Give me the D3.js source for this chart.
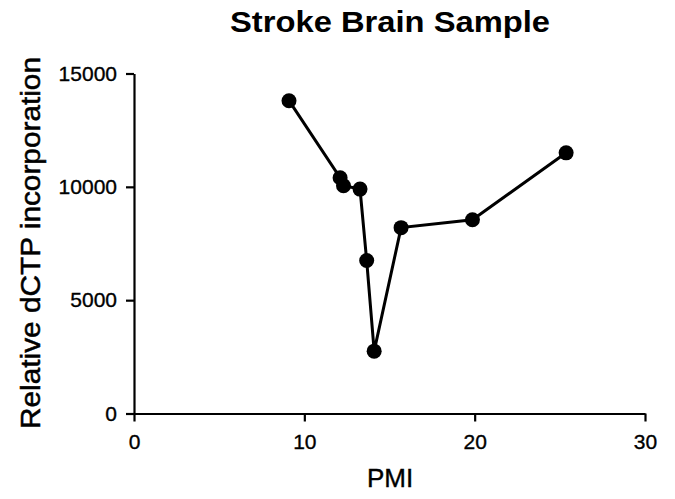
<!DOCTYPE html>
<html><head><meta charset="utf-8">
<script src="https://cdn.jsdelivr.net/npm/d3@7"></script>
<style>body{margin:0;background:#fff}svg{display:block}text{font-family:"Liberation Sans",Arial,sans-serif}</style>
</head><body>
<svg id="c" width="675" height="499"></svg>
<script>
const pmi = [9.1, 12.1, 12.3, 13.27, 13.66, 14.1, 15.68, 19.87, 25.37];
const dctp = [13800, 10400, 10050, 9900, 6750, 2750, 8200, 8550, 11500];
const xTicks = [0, 10, 20, 30];
const yTicks = [0, 5000, 10000, 15000];
const title = "Stroke Brain Sample";
const xLabel = "PMI";
const yLabel = "Relative dCTP incorporation";

const svg = d3.select("#c");
const x = d3.scaleLinear().domain([0, 30]).range([134, 645]);
const y = d3.scaleLinear().domain([0, 15000]).range([413.5, 73.5]);
const data = pmi.map((v, i) => ({x: v, y: dctp[i]}));

const xa = svg.append("g").attr("transform", `translate(0,${y(0)})`)
  .call(d3.axisBottom(x).tickValues(xTicks).tickFormat(d3.format("d")).tickSize(8).tickSizeOuter(0).tickPadding(13));
const ya = svg.append("g").attr("transform", `translate(${x(0)},0)`)
  .call(d3.axisLeft(y).tickValues(yTicks).tickFormat(d3.format("d")).tickSize(8).tickSizeOuter(0).tickPadding(9));
[xa, ya].forEach(a => {
  a.selectAll("path,line").attr("stroke", "#000").attr("stroke-width", 2.2);
  a.selectAll("text").attr("fill", "#000").attr("stroke", "#000").attr("stroke-width", 0.35).style("font-size", "21px");
});

svg.append("path").datum(data)
  .attr("fill", "none").attr("stroke", "#000").attr("stroke-width", 3)
  .attr("d", d3.line().x(d => x(d.x)).y(d => y(d.y)));
svg.selectAll("circle.p").data(data).enter().append("circle")
  .attr("cx", d => x(d.x)).attr("cy", d => y(d.y)).attr("r", 7.5).attr("fill", "#000");

svg.append("text").attr("x", 390).attr("y", 32).attr("text-anchor", "middle")
  .attr("textLength", 320).attr("lengthAdjust", "spacingAndGlyphs")
  .style("font-size", "30px").style("font-weight", "bold").text(title);
svg.append("text").attr("x", 390).attr("y", 487).attr("text-anchor", "middle")
  .attr("stroke", "#000").attr("stroke-width", 0.4)
  .style("font-size", "26px").text(xLabel);
svg.append("text").attr("transform", `translate(40,243) rotate(-90)`).attr("text-anchor", "middle")
  .attr("textLength", 372).attr("lengthAdjust", "spacingAndGlyphs")
  .attr("stroke", "#000").attr("stroke-width", 0.5)
  .style("font-size", "27px").text(yLabel);
</script>
</body></html>
